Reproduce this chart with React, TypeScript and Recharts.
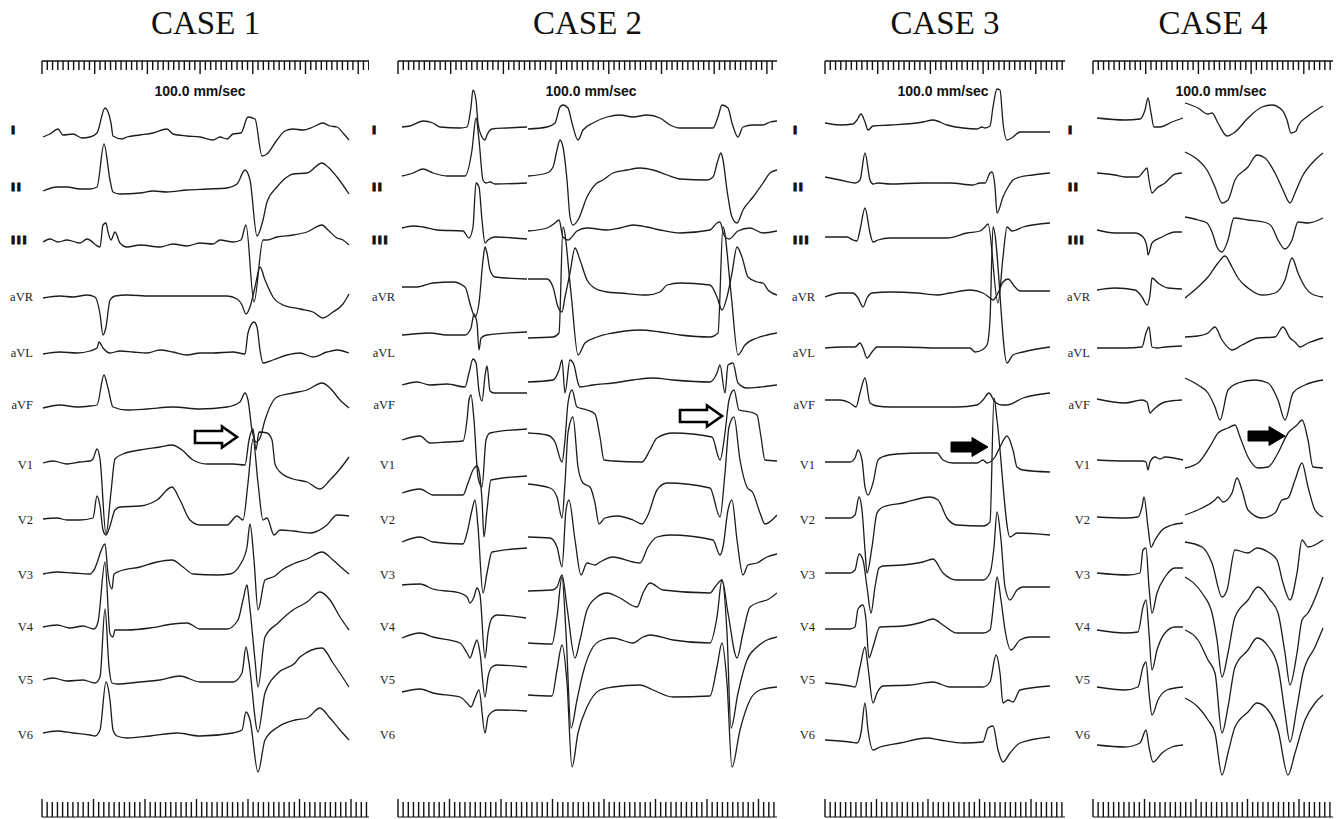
import React from 'react';
import { LineChart, Line, XAxis, YAxis, ReferenceDot } from 'recharts';

type Pt = [number, number | null];

const leadNames = ['I', 'II', 'III', 'aVR', 'aVL', 'aVF', 'V1', 'V2', 'V3', 'V4', 'V5', 'V6'];
const caseTitles = ['CASE 1', 'CASE 2', 'CASE 3', 'CASE 4'];
const speedLabel = '100.0 mm/sec';

// [time, amplitude] per lead (null = break between strips)
const c1I: Pt[] = [[1,-1],[8,2],[16,7],[21,1],[31,2],[40,-2],[48,-1],[55,3],[63,28],[69,13],[71,0],[80,-3],[85,-1],[98,1],[111,3],[125,7],[131,2],[145,0],[158,-1],[171,-4],[178,-1],[185,-3],[191,2],[199,3],[206,19],[213,17],[220,-20],[225,-18],[235,-4],[243,5],[251,7],[261,6],[271,9],[281,13],[288,10],[295,9],[301,3],[307,-4]];
const c1II: Pt[] = [[1,-1],[15,3],[25,3],[38,1],[48,1],[55,3],[62,46],[68,10],[71,-2],[78,-4],[98,-3],[111,-1],[125,-2],[145,0],[165,1],[185,2],[195,6],[203,20],[208,10],[215,-46],[221,-30],[225,-12],[235,3],[245,13],[251,16],[265,17],[280,27],[286,23],[295,13],[307,-4]];
const c1III: Pt[] = [[1,0],[8,3],[16,0],[25,2],[38,-1],[45,3],[58,-5],[61,17],[64,19],[66,10],[69,2],[73,10],[78,-1],[85,-5],[98,-3],[118,-5],[131,-2],[145,-4],[158,-1],[171,-2],[178,2],[191,0],[199,2],[204,17],[212,-60],[221,2],[225,2],[235,5],[251,7],[265,10],[280,17],[286,12],[295,4],[301,2],[307,-3]];
const c1aVR: Pt[] = [[1,-1],[18,1],[31,0],[45,2],[53,0],[58,-17],[61,-38],[64,-30],[68,-3],[73,1],[85,2],[108,1],[131,1],[158,1],[185,1],[195,-2],[200,-8],[204,-17],[208,-10],[213,10],[218,30],[223,17],[231,0],[241,-8],[258,-12],[271,-15],[281,-21],[291,-15],[301,-7],[307,3]];
const c1aVL: Pt[] = [[1,-1],[18,1],[35,0],[48,2],[55,5],[57,11],[61,5],[68,0],[78,2],[91,1],[105,0],[118,3],[131,1],[145,-2],[158,0],[171,0],[191,1],[203,-1],[206,20],[212,31],[215,26],[218,3],[221,-10],[231,-7],[245,-2],[258,0],[271,-4],[285,1],[295,3],[307,0]];
const c1aVF: Pt[] = [[1,0],[18,3],[35,1],[48,2],[55,3],[62,33],[66,20],[71,1],[85,-2],[105,-1],[131,1],[158,-1],[185,1],[198,6],[203,15],[206,8],[210,-22],[214,-34],[218,-30],[223,-12],[235,11],[251,15],[265,18],[280,25],[288,20],[298,8],[307,0]];
const c1V1: Pt[] = [[1,-1],[11,1],[25,-2],[38,0],[48,1],[51,3],[55,13],[58,3],[64,-72],[69,-30],[73,3],[81,8],[98,12],[118,15],[130,17],[140,12],[151,2],[165,-2],[191,-2],[203,-3],[207,22],[211,33],[214,12],[217,30],[225,29],[230,22],[233,-2],[238,-10],[251,-17],[265,-20],[278,-27],[288,-18],[298,-7],[307,5]];
const c1V2: Pt[] = [[1,0],[15,1],[25,-1],[38,-1],[51,1],[55,23],[58,13],[61,-11],[64,-16],[68,-7],[73,9],[78,12],[98,13],[115,19],[130,32],[138,19],[148,-1],[158,-6],[185,-6],[195,3],[201,-1],[206,36],[211,80],[216,36],[221,-1],[225,1],[232,-16],[238,-11],[251,-12],[268,-14],[285,-6],[295,4],[307,3]];
const c1V3: Pt[] = [[1,-1],[15,1],[31,0],[48,-1],[52,3],[63,29],[66,-1],[70,-16],[72,-1],[78,2],[98,6],[115,11],[130,13],[141,6],[151,-1],[175,-2],[188,-1],[198,8],[205,26],[208,49],[212,13],[216,-37],[223,-7],[233,-3],[240,3],[251,9],[265,14],[280,21],[291,13],[301,4],[307,-1]];
const c1V4: Pt[] = [[1,0],[15,2],[28,-1],[41,1],[52,-2],[56,5],[63,65],[68,-7],[71,-10],[73,-3],[85,-3],[108,-1],[131,3],[145,4],[158,-2],[185,-2],[196,7],[201,27],[205,42],[207,27],[213,-33],[216,-60],[223,-10],[236,4],[251,17],[265,25],[278,35],[288,27],[298,10],[307,-3]];
const c1V5: Pt[] = [[1,0],[11,2],[25,-1],[41,0],[53,-3],[58,3],[63,71],[67,13],[70,-3],[75,-4],[98,-2],[118,0],[138,4],[158,-2],[191,-2],[200,7],[204,33],[207,17],[216,-52],[223,-13],[236,7],[253,17],[258,23],[280,32],[291,17],[307,-7]];
const c1V6: Pt[] = [[1,0],[15,2],[31,0],[48,-2],[53,-3],[58,3],[64,51],[68,33],[71,3],[75,-3],[85,-5],[108,-3],[135,0],[158,-3],[191,0],[200,3],[204,21],[208,13],[216,-39],[223,-7],[236,6],[253,13],[265,15],[278,25],[288,15],[298,3],[307,-7]];

const c2I: Pt[] = [[4,1],[12,2],[25,7],[35,5],[42,1],[62,0],[69,1],[73,21],[75,38],[78,28],[80,5],[84,-9],[87,-12],[89,-7],[94,-1],[109,0],[129,1],[129.5,null],[130,-1],[149,1],[157,5],[162,21],[165,23],[170,20],[174,5],[180,-12],[185,-2],[195,5],[209,11],[222,13],[235,11],[249,13],[262,10],[272,3],[282,0],[315,0],[320,11],[324,23],[330,20],[334,5],[340,-9],[345,1],[355,3],[365,3],[372,6],[379,7]];
const c2II: Pt[] = [[4,0],[15,3],[25,7],[35,3],[49,0],[67,0],[74,26],[78,58],[81,36],[85,-4],[88,-7],[92,-6],[97,-8],[129,-7],[129.5,null],[130,0],[149,3],[155,9],[159,26],[162,36],[165,29],[169,-4],[172,-41],[175,-49],[180,-44],[189,-21],[199,-7],[205,-4],[215,3],[229,6],[242,8],[255,6],[269,1],[282,-3],[309,-4],[315,-1],[320,16],[323,23],[325,16],[329,-14],[334,-41],[339,-47],[345,-34],[355,-21],[365,-7],[372,3],[379,6]];
const c2III: Pt[] = [[4,1],[15,3],[25,2],[39,-1],[65,-2],[71,-9],[75,2],[78,46],[81,42],[84,9],[87,-14],[90,-11],[97,-8],[129,-10],[129.5,null],[130,-2],[149,1],[157,6],[161,9],[165,-8],[170,-11],[179,-2],[189,1],[209,-1],[222,1],[235,4],[249,2],[262,-1],[282,-4],[312,-1],[319,6],[322,7],[326,-6],[331,-10],[340,-2],[352,1],[365,-4],[379,-2]];
const c2aVR: Pt[] = [[4,-4],[19,-4],[35,0],[55,1],[67,-4],[73,-24],[77,-34],[81,-20],[85,23],[87,36],[89,30],[92,13],[97,6],[129,4],[129.5,null],[130,4],[149,4],[155,-4],[160,-24],[164,-29],[167,-14],[172,10],[177,35],[182,23],[189,3],[195,-4],[209,-9],[222,-10],[249,-12],[262,-9],[269,-2],[282,0],[312,-2],[319,-14],[324,-27],[329,-14],[334,10],[339,36],[344,26],[350,6],[359,1],[365,0],[370,-7],[379,-12]];
const c2aVL: Pt[] = [[4,1],[15,2],[32,3],[49,1],[67,1],[73,8],[76,22],[79,13],[81,-14],[83,-2],[89,1],[129,4],[129.5,null],[130,-2],[155,-1],[161,3],[165,109],[173,43],[180,-19],[187,-7],[199,-1],[215,3],[242,6],[262,4],[282,1],[312,-1],[320,3],[325,109],[333,43],[340,-19],[347,-9],[359,-2],[369,1],[379,3]];
const c2aVF: Pt[] = [[4,-4],[19,-1],[32,-4],[49,-3],[67,-6],[71,8],[75,22],[78,18],[81,-10],[84,-20],[87,5],[89,15],[92,-10],[96,-12],[129,-12],[129.5,null],[130,-1],[155,1],[161,11],[164,21],[167,-12],[172,21],[176,16],[180,-2],[182,-6],[195,-4],[215,-2],[235,1],[255,3],[275,1],[312,-1],[319,8],[322,16],[327,-12],[330,16],[335,18],[340,-2],[349,-7],[362,-6],[379,-4]];
const c2V1: Pt[] = [[4,-4],[22,0],[32,-7],[49,-6],[65,-5],[69,16],[71,36],[73,41],[76,16],[80,-41],[84,-51],[88,-4],[92,3],[129,7],[129.5,null],[130,3],[149,1],[157,-6],[164,-26],[167,-4],[170,33],[174,46],[179,29],[189,26],[197,22],[202,-1],[206,-24],[215,-25],[244,-26],[252,-14],[259,-2],[275,3],[314,-1],[322,-24],[327,3],[331,36],[336,46],[341,26],[352,24],[359,21],[363,-1],[367,-24],[379,-25]];
const c2V2: Pt[] = [[4,-5],[22,-1],[35,-7],[65,-7],[70,5],[75,18],[79,22],[81,17],[84,-12],[86,-49],[89,-22],[93,8],[129,12],[129.5,null],[130,4],[152,0],[159,-9],[164,-30],[167,5],[170,55],[175,71],[180,21],[185,5],[192,1],[197,-15],[201,-36],[207,-30],[219,-28],[235,-32],[244,-36],[250,-27],[259,-2],[269,5],[312,0],[322,-29],[327,15],[331,61],[336,71],[342,28],[349,1],[355,-5],[362,-25],[367,-36],[379,-27]];
const c2V3: Pt[] = [[4,-3],[22,2],[35,-3],[65,-5],[69,6],[74,29],[77,39],[80,12],[85,-54],[89,-34],[94,-13],[129,-9],[129.5,null],[130,2],[152,1],[159,-8],[164,-28],[168,29],[171,39],[177,-1],[183,-36],[189,-24],[197,-26],[202,-23],[215,-18],[235,-23],[242,-24],[250,-8],[259,2],[272,4],[315,-1],[322,-16],[325,-8],[330,29],[334,39],[339,-1],[345,-36],[350,-26],[359,-24],[369,-18],[379,-15]];
const c2V4: Pt[] = [[4,5],[22,6],[35,1],[62,-3],[69,-7],[72,-13],[76,-7],[79,2],[82,-5],[87,-68],[90,-43],[94,-28],[99,-25],[128,-28],[129.5,null],[130,-1],[154,0],[159,3],[164,15],[169,-17],[177,-68],[182,-50],[189,-20],[199,-7],[209,-3],[222,-8],[239,-17],[245,-3],[252,7],[265,0],[312,-3],[317,3],[324,10],[330,-23],[339,-68],[345,-43],[352,-17],[362,-12],[369,-10],[379,-3]];
const c2V5: Pt[] = [[4,4],[22,9],[35,5],[62,-1],[69,-11],[72,-16],[76,-5],[79,2],[82,-11],[87,-55],[90,-35],[94,-25],[99,-23],[129,-25],[129.5,null],[130,-1],[154,-2],[159,25],[164,65],[168,9],[173,-86],[179,-58],[185,-31],[195,-5],[204,2],[215,4],[235,-1],[245,5],[252,7],[275,2],[312,-1],[319,25],[324,62],[329,9],[333,-86],[340,-51],[349,-18],[359,-5],[369,2],[379,5]];
const c2V6: Pt[] = [[4,2],[22,5],[35,1],[62,-3],[69,-9],[73,-13],[77,-4],[81,4],[87,-39],[90,-23],[94,-18],[99,-16],[129,-17],[129.5,null],[130,-1],[154,-2],[159,24],[164,49],[169,11],[174,-73],[180,-39],[189,-13],[202,4],[215,7],[242,9],[255,4],[275,-3],[312,-2],[319,27],[324,51],[329,11],[334,-73],[342,-36],[352,-6],[362,4],[379,7]];

const c3I: Pt[] = [[0,0],[15,-2],[28,-1],[32,3],[36,9],[40,1],[43,-7],[48,-3],[65,-2],[98,1],[108,3],[122,-2],[138,-5],[152,-6],[157,-4],[160,-5],[165,-3],[168,16],[172,34],[175,33],[178,0],[182,-17],[188,-14],[195,-9],[205,-9],[225,-9]];
const c3II: Pt[] = [[0,0],[15,-3],[30,-6],[35,-3],[40,24],[45,-3],[48,-7],[53,-6],[65,-7],[98,-6],[125,-6],[148,-8],[155,-6],[160,-6],[165,4],[167,5],[170,-10],[172,-36],[178,-20],[183,-10],[188,-3],[195,0],[208,2],[225,4]];
const c3III: Pt[] = [[0,0],[22,0],[28,-3],[32,-4],[35,7],[40,29],[45,4],[48,-5],[53,-3],[65,-1],[98,-1],[122,-1],[142,4],[155,6],[160,10],[163,13],[173,-66],[178,-20],[182,10],[187,6],[198,10],[225,14]];
const c3aVR: Pt[] = [[0,0],[15,4],[28,4],[33,-1],[38,-10],[42,-1],[47,4],[65,5],[92,4],[112,2],[125,4],[145,7],[158,4],[165,-1],[168,-3],[173,4],[178,15],[183,18],[190,10],[195,6],[225,6]];
const c3aVL: Pt[] = [[0,0],[18,1],[30,1],[35,5],[38,0],[42,-10],[47,-4],[52,1],[75,1],[115,0],[145,0],[150,-4],[157,-2],[162,3],[165,28],[168,121],[182,-15],[188,-7],[198,-4],[225,1]];
const c3aVF: Pt[] = [[0,0],[15,0],[25,-3],[31,-7],[35,7],[40,22],[45,-3],[52,-6],[65,-7],[98,-7],[132,-7],[152,-5],[158,0],[164,7],[170,-2],[177,-5],[182,-5],[198,2],[225,7]];
const c3V1: Pt[] = [[0,0],[25,0],[30,4],[33,12],[37,2],[40,-25],[43,-33],[48,-21],[53,2],[57,5],[72,8],[98,9],[112,9],[118,2],[128,-1],[152,-1],[158,2],[162,-1],[165,0],[170,5],[175,15],[182,26],[188,12],[192,-5],[198,-8],[225,-10]];
const c3V2: Pt[] = [[0,0],[25,0],[30,3],[34,21],[37,8],[40,-32],[42,-55],[47,-29],[52,5],[58,11],[78,15],[105,21],[113,18],[122,0],[132,-7],[158,-8],[165,-4],[169,120],[172,98],[185,-19],[192,-15],[225,-17]];
const c3V3: Pt[] = [[0,0],[25,0],[30,3],[34,19],[38,13],[42,-14],[46,-40],[50,-14],[54,5],[58,7],[78,8],[98,11],[108,14],[118,0],[132,-7],[158,-7],[165,0],[169,26],[172,61],[176,33],[180,-14],[185,-27],[192,-17],[198,-14],[225,-14]];
const c3V4: Pt[] = [[0,0],[25,0],[30,2],[33,20],[38,24],[41,9],[44,-29],[48,-18],[55,2],[78,3],[98,7],[108,10],[118,4],[132,-4],[158,-4],[165,-1],[169,29],[172,52],[176,29],[180,-1],[186,-21],[195,-11],[205,-8],[225,-8]];
const c3V5: Pt[] = [[0,0],[25,-3],[30,-4],[35,16],[40,36],[43,16],[48,-20],[52,-10],[58,-3],[85,-2],[108,1],[125,-4],[158,-4],[165,1],[171,28],[175,10],[178,-20],[183,-17],[188,-19],[195,-7],[225,-3]];
const c3V6: Pt[] = [[0,0],[25,-2],[32,-3],[36,7],[40,37],[43,10],[48,-10],[55,-7],[75,-3],[102,2],[115,0],[138,-3],[158,-2],[163,12],[168,14],[173,-10],[178,-22],[185,-13],[195,-3],[225,3]];

const c4I: Pt[] = [[4,0],[32,-2],[47,-1],[52,8],[55,20],[58,5],[61,-9],[67,-9],[79,-4],[90,0],[91,null],[92,15],[105,10],[115,4],[119,5],[125,-5],[134,-18],[142,-14],[155,0],[169,11],[179,13],[189,8],[194,-2],[198,-15],[203,-13],[205,-8],[215,2],[230,12]];
const c4II: Pt[] = [[4,0],[22,-2],[32,-4],[45,-4],[50,1],[54,5],[56,-7],[59,-20],[64,-15],[72,-10],[82,-1],[89,0],[91,null],[92,21],[105,13],[114,3],[122,-14],[129,-30],[135,-27],[142,-7],[155,6],[164,18],[172,15],[182,0],[190,-17],[197,-30],[202,-20],[209,-4],[222,13],[230,20]];
const c4III: Pt[] = [[4,0],[22,-3],[35,-3],[42,-3],[50,-7],[54,-17],[55,-25],[59,-13],[69,-7],[82,-2],[89,-2],[91,null],[92,13],[105,10],[114,7],[119,-2],[124,-17],[129,-22],[135,-10],[141,12],[155,10],[174,7],[179,3],[185,-10],[192,-19],[199,-10],[205,8],[215,7],[230,12]];
const c4aVR: Pt[] = [[4,0],[22,2],[42,0],[49,-7],[54,-15],[57,-5],[59,12],[65,7],[75,2],[89,1],[91,null],[92,-8],[105,3],[115,13],[125,27],[132,34],[139,23],[145,12],[155,2],[169,-5],[182,-3],[192,10],[199,32],[205,17],[212,3],[219,-4],[230,-7]];
const c4aVL: Pt[] = [[4,0],[32,0],[49,1],[53,15],[56,21],[59,1],[64,0],[72,1],[89,2],[91,null],[92,11],[105,12],[115,15],[122,21],[129,8],[139,-2],[149,3],[165,10],[182,11],[190,21],[197,10],[202,6],[207,1],[215,5],[230,10]];
const c4aVF: Pt[] = [[4,1],[32,-3],[49,0],[54,-2],[57,-13],[60,-10],[72,-2],[89,0],[91,null],[92,22],[105,15],[115,7],[122,-7],[127,-20],[135,10],[145,17],[162,20],[175,17],[185,0],[192,-20],[200,7],[212,15],[230,20]];
const c4V1: Pt[] = [[4,0],[32,-1],[49,-1],[53,-2],[55,-10],[57,-2],[62,3],[67,1],[72,3],[90,0],[91,null],[92,-8],[105,-3],[119,17],[125,27],[135,32],[142,35],[147,23],[155,3],[165,-8],[175,-7],[185,7],[195,27],[204,35],[209,40],[215,20],[220,-7],[230,-8]];
const c4V2: Pt[] = [[4,0],[32,-1],[45,0],[49,10],[51,20],[55,-10],[58,-30],[62,-23],[69,-13],[79,-8],[90,-6],[91,null],[92,2],[109,9],[122,17],[125,20],[130,15],[139,24],[144,39],[149,27],[155,7],[169,-1],[182,4],[189,17],[195,19],[202,37],[209,54],[215,30],[222,7],[230,0]];
const c4V3: Pt[] = [[4,0],[35,-2],[47,0],[50,23],[53,25],[56,-14],[59,-40],[64,-20],[72,-4],[82,5],[90,5],[91,null],[92,31],[109,26],[119,10],[129,-24],[134,-17],[142,23],[155,20],[164,25],[175,21],[184,13],[190,-10],[197,-27],[204,0],[209,33],[215,26],[230,33]];
const c4V4: Pt[] = [[4,0],[32,-3],[45,-2],[50,23],[53,30],[56,-3],[59,-40],[64,-20],[72,-3],[82,3],[90,3],[91,null],[92,53],[109,37],[119,17],[124,-10],[129,-47],[135,-23],[142,13],[155,30],[165,43],[177,30],[185,17],[192,-23],[197,-55],[204,-23],[209,10],[215,17],[230,53]];
const c4V5: Pt[] = [[4,0],[32,-3],[45,0],[50,20],[53,25],[56,-6],[59,-28],[65,-13],[74,-3],[90,0],[91,null],[92,57],[105,47],[115,27],[122,14],[129,-46],[135,-20],[142,20],[155,37],[164,49],[175,41],[185,20],[192,-26],[197,-55],[204,-20],[210,14],[222,40],[230,59]];
const c4V6: Pt[] = [[4,0],[32,-2],[47,2],[53,15],[56,-2],[60,-17],[69,-8],[79,-2],[90,0],[91,null],[92,47],[105,38],[115,25],[122,12],[129,-30],[135,-8],[142,18],[155,33],[164,42],[175,35],[185,15],[195,-30],[202,-8],[212,25],[222,42],[230,50]];

// layout
const PLOT_TOP = 61;
const PLOT_BOTTOM = 817;
const TOP_STEP = 5.27;
const BOTTOM_STEP = 5.15;
const LABEL_ROWS = [130, 187, 240, 297, 353, 405, 465, 520, 575, 627, 680, 735];

const panels = [
  { title: caseTitles[0], left: 42, width: 327, labelW: 42, barX: 11, textX: 33, speedX: 200,
    base: [136, 190, 242, 297, 353, 408, 462, 519, 573, 627, 680, 733],
    leads: [c1I, c1II, c1III, c1aVR, c1aVL, c1aVF, c1V1, c1V2, c1V3, c1V4, c1V5, c1V6],
    arrow: { x: 237, y: 437, open: true } },
  { title: caseTitles[1], left: 398, width: 379, labelW: 36, barX: 10, textX: 33, speedX: 591,
    base: [128, 176, 229, 283, 336, 381, 436, 488, 539, 590, 642, 694],
    leads: [c2I, c2II, c2III, c2aVR, c2aVL, c2aVF, c2V1, c2V2, c2V3, c2V4, c2V5, c2V6],
    arrow: { x: 722, y: 416, open: true } },
  { title: caseTitles[2], left: 825, width: 240, labelW: 40, barX: 8, textX: 30, speedX: 943,
    base: [123, 177, 237, 297, 348, 400, 462, 518, 573, 629, 683, 740],
    leads: [c3I, c3II, c3III, c3aVR, c3aVL, c3aVF, c3V1, c3V2, c3V3, c3V4, c3V5, c3V6],
    arrow: { x: 988, y: 447, open: false } },
  { title: caseTitles[3], left: 1093, width: 240, labelW: 33, barX: 8, textX: 30, speedX: 1221,
    base: [118, 173, 230, 290, 348, 400, 460, 517, 573, 630, 687, 745],
    leads: [c4I, c4II, c4III, c4aVR, c4aVL, c4aVF, c4V1, c4V2, c4V3, c4V4, c4V5, c4V6],
    arrow: { x: 1285, y: 436, open: false } },
];

const makeTicks = (w: number, step: number) => {
  const out: number[] = [];
  for (let i = 0; i * step <= w; i++) out.push(Math.round(i * step * 100) / 100);
  return out;
};

const toRows = (pts: Pt[], base: number) =>
  pts.map(([t, v]) => ({ t, y: v === null ? null : v - base }));

const TopTick = (props: any) => {
  const { x, y, payload } = props;
  const major = Math.round(payload.value / TOP_STEP) % 10 === 0;
  return <line x1={x} x2={x} y1={y} y2={y + (major ? 13 : 9)} stroke="#111" strokeWidth={1.4} />;
};

const BottomTick = (props: any) => {
  const { x, y, payload } = props;
  const major = Math.round(payload.value / BOTTOM_STEP) % 10 === 0;
  return <line x1={x} x2={x} y1={y} y2={y - (major ? 18 : 15)} stroke="#111" strokeWidth={1.4} />;
};

const LeadTick = (props: any) => {
  const { y, payload, barX, textX } = props;
  const idx = LABEL_ROWS.indexOf(-payload.value);
  if (idx < 0) return <g />;
  if (idx < 3) {
    return (
      <text x={barX} y={y} dominantBaseline="central" fontFamily="DejaVu Sans" fontWeight="bold"
        fontSize={11} letterSpacing={1.6} fill="#111" stroke="#111" strokeWidth={1.2}>
        {leadNames[idx]}
      </text>
    );
  }
  return (
    <text x={textX} y={y} dominantBaseline="central" textAnchor="end"
      fontFamily="'Liberation Serif', 'Times New Roman', serif" fontSize={12.5} fill="#222">
      {leadNames[idx]}
    </text>
  );
};

const Arrow = ({ cx, cy, open }: { cx: number; cy: number; open: boolean }) => {
  const L = open ? 42 : 37;
  const H = open ? 15 : 16;
  const bh = open ? 6 : 5;
  const hh = open ? 10.5 : 9.5;
  const d = `M${cx - L},${cy - bh} L${cx - H},${cy - bh} L${cx - H},${cy - hh} L${cx},${cy} L${cx - H},${cy + hh} L${cx - H},${cy + bh} L${cx - L},${cy + bh} Z`;
  return <path d={d} fill={open ? '#fff' : '#000'} stroke="#000" strokeWidth={open ? 2.6 : 1} />;
};

const Panel = ({ p }: { p: typeof panels[number] }) => {
  const topTicks = makeTicks(p.width, TOP_STEP);
  const bottomTicks = makeTicks(p.width, BOTTOM_STEP);
  return (
    <>
      <div style={{ position: 'absolute', left: p.left, width: p.width, top: 7, textAlign: 'center',
        fontFamily: "'Liberation Serif', 'Times New Roman', serif", fontSize: 33, lineHeight: '33px', color: '#111' }}>
        {p.title}
      </div>
      <div style={{ position: 'absolute', left: p.left - p.labelW, top: 0 }}>
        <LineChart width={p.labelW + p.width} height={819} margin={{ top: 0, right: 0, bottom: 0, left: 0 }}>
          <XAxis xAxisId="top" orientation="top" type="number" dataKey="t" domain={[0, p.width]}
            ticks={topTicks} interval={0} height={PLOT_TOP} tickSize={0} tickMargin={0} tickLine={false}
            axisLine={{ stroke: '#111', strokeWidth: 1.5 }} tick={(tp: any) => <TopTick {...tp} />} allowDataOverflow />
          <XAxis xAxisId="bottom" orientation="bottom" type="number" dataKey="t" domain={[0, p.width]}
            ticks={bottomTicks} interval={0} height={819 - PLOT_BOTTOM} tickSize={0} tickMargin={0} tickLine={false}
            axisLine={{ stroke: '#111', strokeWidth: 1.2 }} tick={(tp: any) => <BottomTick {...tp} />} allowDataOverflow />
          <YAxis type="number" domain={[-PLOT_BOTTOM, -PLOT_TOP]} ticks={LABEL_ROWS.map((r) => -r)} interval={0}
            width={p.labelW} tickLine={false} axisLine={false} tickSize={0} tickMargin={0} allowDataOverflow
            tick={(tp: any) => <LeadTick {...tp} barX={p.barX} textX={p.textX} />} />
          {p.leads.map((pts, i) => (
            <Line key={leadNames[i]} xAxisId="top" data={toRows(pts, p.base[i])} dataKey="y" type="monotone"
              stroke="#1c1c1c" strokeWidth={1.3} dot={false} activeDot={false} connectNulls={false}
              isAnimationActive={false} />
          ))}
          <ReferenceDot xAxisId="top" x={p.arrow.x - p.left} y={-p.arrow.y} r={0}
            shape={(sp: any) => <Arrow cx={sp.cx} cy={sp.cy} open={p.arrow.open} />} />
        </LineChart>
      </div>
      <div style={{ position: 'absolute', left: p.speedX - 60, width: 120, top: 84, textAlign: 'center',
        fontFamily: "'Liberation Sans', Arial, sans-serif", fontWeight: 700, fontSize: 14, lineHeight: '14px', color: '#111' }}>
        {speedLabel}
      </div>
    </>
  );
};

export default function App() {
  return (
    <div style={{ position: 'absolute', left: 0, top: 0, width: 1343, height: 819, background: '#fff', overflow: 'hidden' }}>
      {panels.map((p) => <Panel key={p.title} p={p} />)}
    </div>
  );
}
